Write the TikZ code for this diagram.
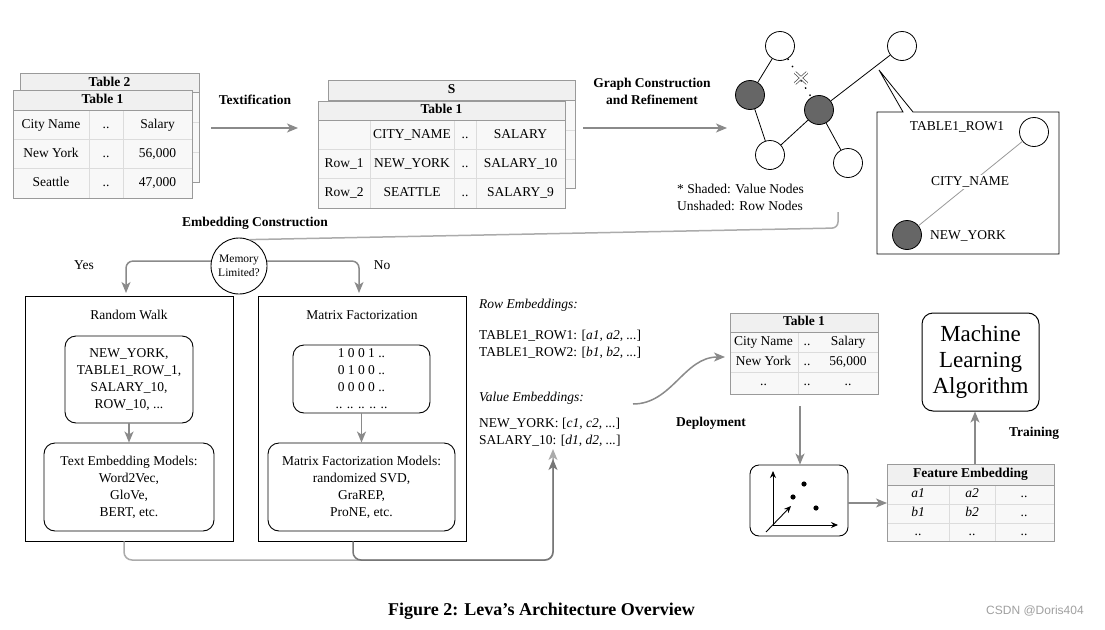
\documentclass[tikz,border=0pt]{standalone}
\usepackage{fontspec}
\setmainfont{Liberation Serif}
\newfontfamily\wmfont{Liberation Sans}
\usetikzlibrary{arrows.meta,calc}
\definecolor{arr}{HTML}{8A8A8A}
\definecolor{arrlight}{HTML}{ABABAB}
\definecolor{arrdark}{HTML}{777777}
\definecolor{tborder}{HTML}{9A9A9A}
\definecolor{theadc}{HTML}{F0F0F0}
\definecolor{tcell}{HTML}{F8F8F8}
\definecolor{tline}{HTML}{DCDCDC}
\definecolor{shade}{HTML}{666666}
\definecolor{wm}{HTML}{A0A0A0}
\tikzset{
  txt/.style={font=\fontsize{13.5}{17}\selectfont, inner sep=0pt, align=center},
  cell/.style={font=\fontsize{13.5}{17}\selectfont, inner sep=0pt, text height=9.5pt, text depth=3pt},
  icell/.style={cell, font=\fontsize{13.5}{17}\selectfont\itshape},
  itxt/.style={font=\fontsize{13.5}{17}\selectfont\itshape, inner sep=0pt, text height=9.5pt, text depth=3pt},
  btxt/.style={font=\fontsize{13.5}{17}\selectfont\bfseries, inner sep=0pt, align=center},
  bcell/.style={font=\fontsize{13.5}{17}\selectfont\bfseries, inner sep=0pt, text height=9.5pt, text depth=3pt},
  tframe/.style={draw=tborder, fill=tcell, line width=0.8pt},
  theadst/.style={draw=tborder, fill=theadc, line width=0.8pt},
  tgrid/.style={draw=tline, line width=0.7pt},
  flow/.style={draw=arr, line width=1.5pt, -{Stealth[length=11pt,width=9pt,inset=3pt]}},
  gnode/.style={circle, draw=black, line width=0.8pt, minimum size=29pt, inner sep=0pt, fill=white},
  vnode/.style={gnode, fill=shade},
  gedge/.style={draw=black, line width=0.8pt},
  outerbox/.style={draw=black, line width=0.9pt, inner sep=0pt},
  rbox/.style={draw=black, line width=0.9pt, rounded corners=11pt, inner sep=0pt, align=center, font=\fontsize{13.5}{17}\selectfont},
}
\begin{document}
\begin{tikzpicture}[x=1pt,y=-1pt]
\useasboundingbox[fill=white] (0,0) rectangle (1105,629);

% ---------- top-left tables ----------
\draw[tframe] (20,73) rectangle (199,182);
\draw[tgrid] (20,122) -- (199,122) (20,152) -- (199,152);
\draw[theadst] (20,73) rectangle (199,92);
\draw[draw=tborder, line width=0.8pt] (20,73) rectangle (199,182);
\node[bcell] (ttwo) at (109.5,83) {Table 2};

\draw[tframe] (13,90) rectangle (192,198);
\draw[tgrid] (13,139) -- (192,139) (13,168) -- (192,168) (89,110) -- (89,198) (123,110) -- (123,198);
\draw[theadst] (13,90) rectangle (192,110);
\draw[draw=tborder, line width=0.8pt] (13,90) rectangle (192,198);
\node[bcell] (tone) at (102.5,100.5) {Table 1};
\node[cell] (la1) at (51,125) {City Name};
\node[cell] (la2) at (106,125) {..};
\node[cell] (la3) at (157.5,125) {Salary};
\node[cell] (lb1) at (51,154) {New York};
\node[cell] (lb2) at (106,154) {..};
\node[cell] (lb3) at (157.5,154) {56,000};
\node[cell] (lc1) at (51,183.5) {Seattle};
\node[cell] (lc2) at (106,183.5) {..};
\node[cell] (lc3) at (157.5,183.5) {47,000};

% ---------- textification ----------
\node[btxt] (textif) at (255,100) {Textification};
\coordinate (tA) at (211,128);
\coordinate (tB) at (298,128);
\draw[flow] (tA) -- (tB);

% ---------- middle tables ----------
\draw[tframe] (328,80) rectangle (575,188);
\draw[tgrid] (328,130) -- (575,130) (328,159) -- (575,159);
\draw[theadst] (328,80) rectangle (575,100);
\draw[draw=tborder, line width=0.8pt] (328,80) rectangle (575,188);
\node[bcell] (ts) at (451.5,90) {S};

\draw[tframe] (318,101) rectangle (565,208);
\draw[tgrid] (318,149) -- (565,149) (318,178) -- (565,178) (370,120) -- (370,208) (454,120) -- (454,208) (476,120) -- (476,208);
\draw[theadst] (318,101) rectangle (565,120);
\draw[draw=tborder, line width=0.8pt] (318,101) rectangle (565,208);
\node[bcell] (tmone) at (441.5,110.5) {Table 1};
\node[cell] (ma2) at (412,135) {CITY\_NAME};
\node[cell] (ma3) at (465,135) {..};
\node[cell] (ma4) at (520.5,135) {SALARY};
\node[cell] (mb1) at (344,164) {Row\_1};
\node[cell] (mb2) at (412,164) {NEW\_YORK};
\node[cell] (mb3) at (465,164) {..};
\node[cell] (mb4) at (520.5,164) {SALARY\_10};
\node[cell] (mc1) at (344,193) {Row\_2};
\node[cell] (mc2) at (412,193) {SEATTLE};
\node[cell] (mc3) at (465,193) {..};
\node[cell] (mc4) at (520.5,193) {SALARY\_9};

% ---------- graph construction ----------
\node[btxt] (gclab) at (652,91) {Graph Construction\\and Refinement};
\coordinate (gA) at (583,128);
\coordinate (gB) at (727,128);
\draw[flow] (gA) -- (gB);

\node[gnode] (g1) at (780,46) {};
\node[vnode] (g2) at (750,95) {};
\node[vnode] (g3) at (819,110) {};
\node[gnode] (g4) at (770,155) {};
\node[gnode] (g5) at (848,163) {};
\node[gnode] (g6) at (902,46) {};
\draw[gedge] (g1) -- (g2) (g2) -- (g4) (g4) -- (g3) (g3) -- (g5) (g3) -- (g6);
\draw[black, line width=1.4pt, dash pattern=on 1.4pt off 7pt] (g1) -- (g3);
\draw[draw=black!70, line width=0.7pt, double=white, double distance=1.6pt] (795,72.5) -- (807,83.5) (807,72.5) -- (795,83.5);

\node[cell, anchor=west] (leg1) at (677,190) {* Shaded: Value Nodes};
\node[cell, anchor=west] (leg2) at (677,207) {Unshaded: Row Nodes};

% callout
\draw[black, line width=0.8pt, fill=white] (877,112) -- (903,112) -- (879,70) -- (913,112) -- (1059,112) -- (1059,254) -- (877,254) -- cycle;
\node[gnode] (cr) at (1034,132) {};
\node[vnode] (cv) at (907,235) {};
\draw[draw=black!40, line width=0.8pt] (cr) -- (cv);
\node[cell] (crl) at (957,127) {TABLE1\_ROW1};
\node[cell, fill=white, inner sep=1pt] (ccl) at (970,182) {CITY\_NAME};
\node[cell] (cvl) at (968,236) {NEW\_YORK};

% ---------- embedding construction ----------
\node[btxt] (eclab) at (255,223) {Embedding Construction};
\node[circle, draw=black, line width=0.9pt, minimum size=56pt, inner sep=0pt, align=center, font=\fontsize{11.5}{14}\selectfont] (mem) at (239,266) {Memory\\Limited?};
\coordinate (gdown) at (838,212);
\draw[draw=arrlight, line width=1.5pt, rounded corners=6pt] (gdown) -- (838,228) -- (mem.68);
\draw[flow, rounded corners=7pt] (mem.170) -| (126,293);
\draw[flow, rounded corners=7pt] (mem.10) -| (359,293);
\node[cell] (yes) at (84,266) {Yes};
\node[cell] (no) at (382,266) {No};

% random walk
\node[outerbox, minimum width=208pt, minimum height=245pt] (rw) at (129,418.5) {};
\node[cell] (rwt) at (129,316) {Random Walk};
\node[rbox, minimum width=128pt, minimum height=87pt] (rwseq) at (129,379.5) {NEW\_YORK,\\TABLE1\_ROW\_1,\\SALARY\_10,\\ROW\_10, ...};
\node[rbox, minimum width=170pt, minimum height=88pt] (rwm) at (129,487) {Text Embedding Models:\\Word2Vec,\\GloVe,\\BERT, etc.};
\draw[flow] (rwseq.south) -- (rwm.north);

% matrix factorization
\node[outerbox, minimum width=208pt, minimum height=245pt] (mf) at (362,418.5) {};
\node[cell] (mft) at (362,316) {Matrix Factorization};
\node[rbox, minimum width=137pt, minimum height=68pt] (mfmat) at (361.5,379) {1 0 0 1 ..\\0 1 0 0 ..\\0 0 0 0 ..\\.. .. .. .. ..};
\node[rbox, minimum width=187pt, minimum height=88pt] (mfm) at (361.5,487) {Matrix Factorization Models:\\randomized SVD,\\GraREP,\\ProNE, etc.};
\draw[flow] (mfmat.south) -- (mfm.north);

% embeddings text
\node[itxt, anchor=west] (rowemb) at (479,305) {Row Embeddings:};
\node[cell, anchor=west] (e1) at (479,336) {TABLE1\_ROW1: [\textit{a1, a2, ...}]};
\node[cell, anchor=west] (e2) at (479,353) {TABLE1\_ROW2: [\textit{b1, b2, ...}]};
\node[itxt, anchor=west] (valemb) at (479,398) {Value Embeddings:};
\node[cell, anchor=west] (e3) at (479,424) {NEW\_YORK: [\textit{c1, c2, ...}]};
\node[cell, anchor=west] (e4) at (479,441) {SALARY\_10: [\textit{d1, d2, ...}]};

\coordinate (inA) at (553,449);
\coordinate (inB) at (553,459);
\draw[draw=arrlight, line width=1.5pt, rounded corners=8pt, -{Stealth[length=11pt,width=9pt,inset=3pt]}] ([xshift=-5pt]rw.south) -- (124,560) -- (553,560) -- (inA);
\draw[draw=arrdark, line width=1.5pt, rounded corners=8pt, -{Stealth[length=11pt,width=9pt,inset=3pt]}] ([xshift=-9pt]mf.south) -- (353,560) -- (553,560) -- (inB);

% deployment
\coordinate (dA) at (633,404);
\coordinate (dB) at (725,357);
\draw[flow] (dA) .. controls (672,404) and (684,357) .. (dB);
\node[btxt] (deplab) at (711,423) {Deployment};

\draw[tframe] (730,313) rectangle (878,394);
\draw[tgrid] (730,352) -- (878,352) (730,372) -- (878,372) (798,332) -- (798,394);
\draw[theadst] (730,313) rectangle (878,332);
\draw[draw=tborder, line width=0.8pt] (730,313) rectangle (878,394);
\node[bcell] (dt) at (804,322.5) {Table 1};
\node[cell] (da1) at (763.5,342.5) {City Name};
\node[cell] (da2) at (807,342.5) {..};
\node[cell] (da3) at (848,342.5) {Salary};
\node[cell] (db1) at (763.5,362) {New York};
\node[cell] (db2) at (807,362) {..};
\node[cell] (db3) at (848,362) {56,000};
\node[cell] (dc1) at (763.5,382) {..};
\node[cell] (dc2) at (807,382) {..};
\node[cell] (dc3) at (848,382) {..};
\coordinate (dtb) at (800,406);

% plot
\node[draw=black, line width=0.9pt, rounded corners=9pt, minimum width=98pt, minimum height=71pt, inner sep=0pt] (plot) at (799,500.5) {};
\draw[flow] (dtb) -- (dtb |- plot.north);
\coordinate (po) at (773,525);
\coordinate (py) at (773,471);
\coordinate (px) at (838,525);
\draw[black, line width=0.9pt, -{Stealth[length=7pt,width=6pt]}] (po) -- (py);
\draw[black, line width=0.9pt, -{Stealth[length=7pt,width=6pt]}] (po) -- (px);
\coordinate (pd1) at (766,532);
\coordinate (pd2) at (791,506);
\draw[black, line width=0.9pt, -{Stealth[length=7pt,width=6pt]}] (pd1) -- (pd2);
\fill[black] (804,484) circle (2.6pt) (793,497) circle (2.6pt) (816,508) circle (2.6pt);

% feature embedding
\draw[tframe] (887,464) rectangle (1054,541);
\draw[tgrid] (887,504) -- (1054,504) (887,523) -- (1054,523) (949,485) -- (949,541) (995,485) -- (995,541);
\draw[theadst] (887,464) rectangle (1054,485);
\draw[draw=tborder, line width=0.8pt] (887,464) rectangle (1054,541);
\node[bcell] (fe) at (970.5,474.5) {Feature Embedding};
\node[icell] (fa1) at (918,494) {a1};
\node[icell] (fa2) at (972,494) {a2};
\node[cell] (fa3) at (1024,494) {..};
\node[icell] (fb1) at (918,513.5) {b1};
\node[icell] (fb2) at (972,513.5) {b2};
\node[cell] (fb3) at (1024,513.5) {..};
\node[cell] (fc1) at (918,532) {..};
\node[cell] (fc2) at (972,532) {..};
\node[cell] (fc3) at (1024,532) {..};
\coordinate (fein) at (887,503);
\draw[flow] (plot.east |- fein) -- (fein);

% ML
\node[draw=black, line width=1pt, rounded corners=11pt, minimum width=117pt, minimum height=98pt, inner sep=0pt, align=center, font=\fontsize{23}{26}\selectfont] (ml) at (980.5,362) {Machine\\Learning\\Algorithm};
\coordinate (trs) at (975,464);
\draw[flow] (trs) -- (trs |- ml.south);
\node[btxt] (train) at (1034,433) {Training};

% caption
\node[font=\fontsize{18}{20}\selectfont\bfseries, inner sep=0pt] (cap) at (541.5,611) {Figure 2: Leva’s Architecture Overview};
\node[font=\wmfont\fontsize{12}{14}\selectfont, text=wm, inner sep=0pt] (wmk) at (1035,611) {CSDN @Doris404};
\end{tikzpicture}
\end{document}
